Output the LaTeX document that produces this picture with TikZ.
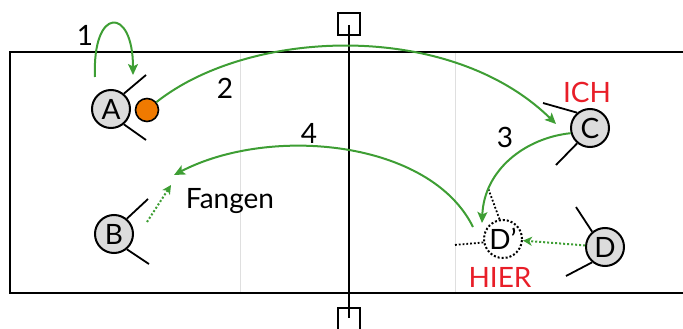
\documentclass[tikz,border=0pt]{standalone}
\usepackage{fontspec}
\setmainfont{Lato}
\usetikzlibrary{arrows.meta}
\definecolor{pgreen}{RGB}{62,158,52}
\definecolor{pball}{RGB}{240,122,0}
\definecolor{pred}{RGB}{232,30,40}
\definecolor{pfill}{RGB}{220,220,220}
\begin{document}
\begin{tikzpicture}[x=1pt,y=-1pt,
  player/.style={circle,draw,line width=2pt,fill=pfill,minimum size=38pt,inner sep=0pt,font=\fontsize{28}{28}\selectfont},
  ghost/.style={circle,draw,dotted,line width=2pt,minimum size=38pt,inner sep=0pt,font=\fontsize{28}{28}\selectfont},
  arm/.style={line width=1.8pt},
  ghostarm/.style={line width=1.8pt,dotted},
  ball/.style={circle,draw,line width=1.6pt,fill=pball,minimum size=23pt,inner sep=0pt},
  pass/.style={pgreen,line width=2pt,-{Stealth[length=11pt,width=10pt,inset=2.5pt]}},
  run/.style={pgreen,line width=2pt,dotted,-{Stealth[length=9pt,width=9pt,inset=2.5pt]}},
  lbl/.style={font=\fontsize{28}{28}\selectfont,inner sep=0pt},
  redlbl/.style={font=\fontsize{28}{28}\selectfont,inner sep=0pt,text=pred},
  court/.style={line width=2.2pt},
  zone/.style={line width=0.7pt,gray!25},
  netbox/.style={draw,line width=2pt,minimum size=22pt,inner sep=0pt}
]
\useasboundingbox (0,0) rectangle (683,329);
% court
\draw[court] (683,52) -- (10,52) -- (10,293) -- (683,293);
\draw[zone] (240,53) -- (240,292);
\draw[zone] (455,53) -- (455,292);
% net
\node[netbox] (posttop) at (349,24) {};
\node[netbox] (postbot) at (349,319) {};
\coordinate (nettop) at (349,25);
\coordinate (netbot) at (349,318);
\draw[line width=2pt] (nettop) -- (netbot);
% players
\node[player] (A) at (111,109) {A};
\node[player] (B) at (114,234) {B};
\node[player] (C) at (590,128) {C};
\node[player] (D) at (605,247) {D};
\node[ghost] (Dp) at (503,239) {D’};
\node[ball] (ball) at (147,110) {};
% arms
\coordinate (a1) at (146,75); \coordinate (a2) at (146,140);
\coordinate (b1) at (148,199); \coordinate (b2) at (149,264);
\coordinate (c1) at (543,103); \coordinate (c2) at (556,165);
\coordinate (d1) at (576,207); \coordinate (d2) at (566,276);
\coordinate (dp1) at (488,188); \coordinate (dp2) at (454,245);
\draw[arm] (A.50) -- (a1); \draw[arm] (A.-50) -- (a2);
\draw[arm] (B.50) -- (b1); \draw[arm] (B.-50) -- (b2);
\draw[arm] (C.130) -- (c1); \draw[arm] (C.-130) -- (c2);
\draw[arm] (D.130) -- (d1); \draw[arm] (D.-130) -- (d2);
\draw[ghostarm] (Dp.100) -- (dp1); \draw[ghostarm] (Dp.190) -- (dp2);
% passes
\coordinate (p1s) at (95,77); \coordinate (p1e) at (133,75);
\draw[pass] (p1s) .. controls (92,6) and (133,6) .. (p1e);
\coordinate (ctip) at (556,124);
\draw[pass] (ball.40) .. controls (250,28) and (450,20) .. (ctip);
\coordinate (dtip) at (482,223);
\draw[pass] (C.195) .. controls (525,138) and (484,170) .. (dtip);
\coordinate (d4s) at (473,227);
\coordinate (catch) at (174,175);
\draw[pass] (d4s) .. controls (430,140) and (270,125) .. (catch);
\coordinate (bs) at (147,222);
\coordinate (bt) at (171,185);
\draw[run] (bs) -- (bt);
\draw[run] (D) -- (Dp);
% labels
\node[lbl] (n1) at (85,35) {1};
\node[lbl] (n2) at (225,88) {2};
\node[lbl] (n3) at (505,137) {3};
\node[lbl] (n4) at (309,133) {4};
\node[lbl] (fangen) at (230,201) {Fangen};
\node[redlbl] (ich) at (587,92) {ICH};
\node[redlbl] (hier) at (500,277) {HIER};
\end{tikzpicture}
\end{document}
